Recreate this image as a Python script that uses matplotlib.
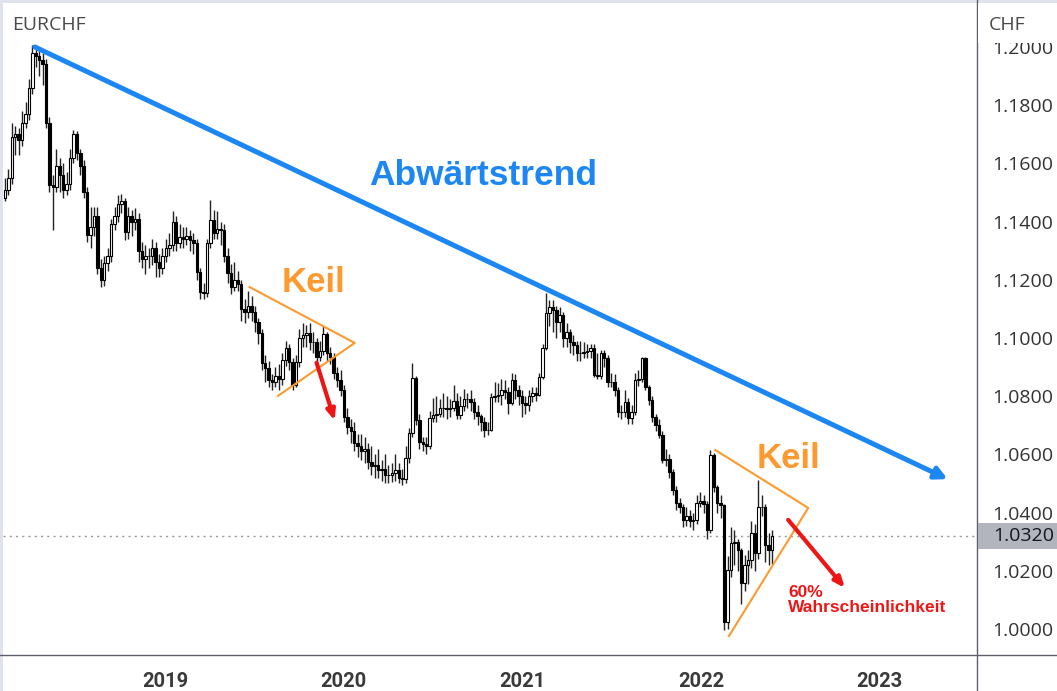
import matplotlib.pyplot as plt
import matplotlib.dates as mdates
from matplotlib.patches import Rectangle
from matplotlib.lines import Line2D
import numpy as np
import pandas as pd

plt.rcParams['font.family'] = ['Liberation Sans', 'DejaVu Sans']

# Weekly EURCHF candles (open = previous close)
first_week = '2018-02-08'
first_open = 1.148
closes = [
    1.151, 1.155, 1.169, 1.170, 1.168, 1.174, 1.177, 1.186, 1.198, 1.197,
    1.1955, 1.194, 1.174, 1.1526, 1.152, 1.159, 1.156, 1.151, 1.153, 1.162,
    1.170, 1.1636, 1.159, 1.150, 1.1354, 1.138, 1.142, 1.124, 1.120, 1.1258,
    1.128, 1.139, 1.142, 1.146, 1.147, 1.1364, 1.142, 1.140, 1.141, 1.130,
    1.127, 1.128, 1.128, 1.131, 1.126, 1.124, 1.128, 1.131, 1.132, 1.140,
    1.1326, 1.1347, 1.134, 1.135, 1.1335, 1.1325, 1.1227, 1.1158, 1.1155, 1.1326,
    1.1405, 1.136, 1.1375, 1.137, 1.128, 1.1223, 1.1175, 1.120, 1.1185, 1.110,
    1.109, 1.111, 1.109, 1.1055, 1.1017, 1.0914, 1.0897, 1.0856, 1.085, 1.087,
    1.086, 1.0924, 1.0966, 1.0918, 1.0838, 1.0918, 1.100, 1.101, 1.1017, 1.0986,
    1.0985, 1.0935, 1.0955, 1.1014, 1.0948, 1.0935, 1.088, 1.0856, 1.0821, 1.0729,
    1.0694, 1.068, 1.064, 1.063, 1.061, 1.062, 1.0574, 1.056, 1.0565, 1.0546,
    1.055, 1.053, 1.0528, 1.0535, 1.0545, 1.052, 1.0515, 1.0588, 1.0674, 1.0863,
    1.0718, 1.0643, 1.0635, 1.063, 1.0725, 1.0735, 1.074, 1.076, 1.076, 1.0755,
    1.076, 1.0785, 1.0735, 1.0765, 1.079, 1.079, 1.078, 1.0745, 1.0732, 1.071,
    1.0684, 1.0685, 1.0797, 1.080, 1.0805, 1.082, 1.0815, 1.0777, 1.0856, 1.082,
    1.080, 1.0775, 1.077, 1.080, 1.081, 1.0805, 1.0866, 1.0966, 1.1086, 1.1105,
    1.1095, 1.1055, 1.108, 1.100, 1.102, 1.0985, 1.0976, 1.0948, 1.095, 1.0953,
    1.0955, 1.0965, 1.0873, 1.087, 1.0948, 1.093, 1.0849, 1.085, 1.082, 1.0746,
    1.0745, 1.078, 1.0725, 1.0745, 1.0856, 1.086, 1.0931, 1.0832, 1.0787, 1.0729,
    1.070, 1.0667, 1.058, 1.0585, 1.054, 1.0478, 1.0433, 1.042, 1.0375, 1.039,
    1.037, 1.0375, 1.0433, 1.044, 1.043, 1.034, 1.0598, 1.0488, 1.0433, 1.0425,
    1.0024, 1.0203, 1.0296, 1.030, 1.027, 1.0158, 1.022, 1.0237, 1.033, 1.026,
    1.0419, 1.042, 1.0289, 1.027, 1.032,
]
highs = [
    1.155, 1.158, 1.174, 1.173, 1.172, 1.178, 1.181, 1.189, 1.2007, 1.2005,
    1.199, 1.198, 1.196, 1.176, 1.156, 1.165, 1.162, 1.160, 1.157, 1.165,
    1.1715, 1.171, 1.165, 1.161, 1.152, 1.145, 1.145, 1.145, 1.127, 1.128,
    1.131, 1.141, 1.145, 1.149, 1.1495, 1.148, 1.145, 1.144, 1.1445, 1.143,
    1.133, 1.132, 1.131, 1.134, 1.133, 1.129, 1.131, 1.134, 1.136, 1.1435,
    1.142, 1.139, 1.138, 1.138, 1.137, 1.136, 1.134, 1.124, 1.119, 1.134,
    1.1474, 1.144, 1.1435, 1.140, 1.139, 1.131, 1.1255, 1.126, 1.123, 1.120,
    1.1135, 1.116, 1.1145, 1.111, 1.107, 1.103, 1.094, 1.092, 1.0875, 1.090,
    1.091, 1.095, 1.099, 1.098, 1.093, 1.094, 1.103, 1.105, 1.1045, 1.105,
    1.102, 1.100, 1.099, 1.104, 1.102, 1.097, 1.095, 1.090, 1.089, 1.084,
    1.076, 1.072, 1.071, 1.067, 1.067, 1.066, 1.064, 1.063, 1.060, 1.062,
    1.058, 1.060, 1.0565, 1.057, 1.060, 1.057, 1.055, 1.063, 1.069, 1.0914,
    1.087, 1.074, 1.066, 1.066, 1.075, 1.0795, 1.080, 1.079, 1.081, 1.080,
    1.079, 1.084, 1.081, 1.080, 1.0825, 1.081, 1.082, 1.0795, 1.077, 1.074,
    1.073, 1.071, 1.081, 1.085, 1.0845, 1.086, 1.0855, 1.083, 1.088, 1.0875,
    1.084, 1.082, 1.080, 1.082, 1.083, 1.083, 1.088, 1.098, 1.1155, 1.113,
    1.113, 1.111, 1.1105, 1.109, 1.105, 1.103, 1.101, 1.099, 1.099, 1.0985,
    1.098, 1.098, 1.098, 1.095, 1.096, 1.096, 1.094, 1.088, 1.0875, 1.083,
    1.077, 1.082, 1.0795, 1.077, 1.088, 1.089, 1.0935, 1.0935, 1.084, 1.080,
    1.074, 1.072, 1.068, 1.062, 1.060, 1.055, 1.049, 1.045, 1.043, 1.042,
    1.041, 1.040, 1.046, 1.047, 1.046, 1.044, 1.0615, 1.0605, 1.0495, 1.046,
    1.043, 1.025, 1.035, 1.034, 1.031, 1.028, 1.0255, 1.027, 1.037, 1.036,
    1.0512, 1.046, 1.043, 1.033, 1.034,
]
lows = [
    1.147, 1.149, 1.153, 1.163, 1.163, 1.166, 1.172, 1.175, 1.184, 1.193,
    1.190, 1.187, 1.172, 1.150, 1.137, 1.150, 1.150, 1.148, 1.149, 1.151,
    1.160, 1.161, 1.156, 1.148, 1.133, 1.131, 1.135, 1.122, 1.1175, 1.118,
    1.123, 1.126, 1.137, 1.140, 1.143, 1.1335, 1.134, 1.135, 1.137, 1.126,
    1.124, 1.122, 1.124, 1.125, 1.121, 1.121, 1.122, 1.126, 1.128, 1.130,
    1.130, 1.131, 1.131, 1.132, 1.130, 1.129, 1.120, 1.1135, 1.1135, 1.114,
    1.131, 1.134, 1.134, 1.132, 1.126, 1.119, 1.115, 1.116, 1.116, 1.106,
    1.105, 1.107, 1.106, 1.102, 1.098, 1.089, 1.085, 1.083, 1.082, 1.083,
    1.082, 1.084, 1.0905, 1.089, 1.082, 1.083, 1.090, 1.097, 1.097, 1.096,
    1.095, 1.089, 1.092, 1.094, 1.092, 1.091, 1.086, 1.083, 1.080, 1.071,
    1.067, 1.064, 1.061, 1.059, 1.058, 1.057, 1.055, 1.053, 1.052, 1.052,
    1.051, 1.050, 1.050, 1.0505, 1.051, 1.050, 1.0495, 1.050, 1.057, 1.066,
    1.070, 1.062, 1.061, 1.060, 1.062, 1.071, 1.071, 1.073, 1.073, 1.072,
    1.073, 1.075, 1.072, 1.072, 1.075, 1.076, 1.075, 1.072, 1.070, 1.068,
    1.066, 1.0665, 1.068, 1.078, 1.078, 1.077, 1.079, 1.074, 1.077, 1.079,
    1.077, 1.073, 1.074, 1.075, 1.078, 1.0785, 1.080, 1.086, 1.096, 1.104,
    1.102, 1.100, 1.102, 1.097, 1.097, 1.095, 1.094, 1.092, 1.092, 1.093,
    1.093, 1.093, 1.0865, 1.086, 1.086, 1.090, 1.083, 1.083, 1.080, 1.073,
    1.072, 1.073, 1.0705, 1.0705, 1.0735, 1.0835, 1.085, 1.082, 1.077, 1.071,
    1.068, 1.0655, 1.057, 1.056, 1.052, 1.046, 1.041, 1.040, 1.035, 1.0355,
    1.035, 1.034, 1.036, 1.042, 1.040, 1.031, 1.033, 1.047, 1.040, 1.038,
    0.9998, 1.000, 1.018, 1.022, 1.020, 1.0085, 1.013, 1.0155, 1.021, 1.020,
    1.024, 1.039, 1.023, 1.022, 1.0225,
]
last_price = 1.032
price_ticks = [1.00, 1.02, 1.04, 1.06, 1.08, 1.10, 1.12, 1.14, 1.16, 1.18, 1.20]
year_labels = ['2019', '2020', '2021', '2022', '2023']

blue = '#1c87f2'
orange = '#fd9a2f'
red = '#ee1515'

weeks = pd.date_range(first_week, periods=len(closes), freq='7D')
x = mdates.date2num(weeks)
o = np.array([first_open] + closes[:-1])
c = np.array(closes)
up = c >= o


def d(s):
    return mdates.date2num(pd.Timestamp(s))


fig = plt.figure(figsize=(10.57, 6.91), dpi=100)
ax = fig.add_axes([3 / 1057, 36 / 691, 974 / 1057, 652 / 691])

# candles
ax.vlines(x, lows, highs, color='#222222', lw=1.0, zorder=2)
ax.bar(x, c - o, bottom=o, width=5.0,
       color=np.where(up, 'white', 'black'), edgecolor='black',
       linewidth=0.8, zorder=3)

ax.axhline(last_price, color='#9598a1', ls=(0, (1.5, 3)), lw=1, zorder=1)

ax.set_xlim(d('2018-02-04'), d('2023-07-19'))
ax.set_ylim(0.99107, 1.2151)

# axes / ticks
for s in ax.spines.values():
    s.set_visible(False)
ax.yaxis.tick_right()
ax.set_yticks(price_ticks)
ax.set_yticklabels(['%.4f' % p for p in price_ticks],
                   family='Open Sans', fontsize=14, color='#333333')
ax.set_xticks([d(y + '-01-01') for y in year_labels])
ax.set_xticklabels(year_labels, family='Roboto', fontweight='bold',
                   fontsize=14.5, color='#3a3a3a')
ax.tick_params(axis='y', length=0, pad=11)
ax.tick_params(axis='x', length=0, pad=12)

# trend line and annotations
ax.annotate('', xy=(d('2023-05-20'), 1.0515), xytext=(d('2018-04-10'), 1.2000),
            arrowprops=dict(arrowstyle='-|>,head_length=0.35,head_width=0.18',
                            mutation_scale=20, color=blue, lw=3.6,
                            shrinkA=0, shrinkB=0, capstyle='round'),
            zorder=5)
ax.text(d('2020-10-12'), 1.1557, 'Abwärtstrend', color=blue, fontsize=25.5,
        fontweight='bold', ha='center', va='center', zorder=6)

ax.plot([d('2019-06-23'), d('2020-01-24'), d('2019-08-20')],
        [1.1175, 1.0983, 1.0801], color=orange, lw=1.5, zorder=4)
ax.text(d('2019-11-01'), 1.1190, 'Keil', color=orange, fontsize=25,
        fontweight='bold', ha='center', va='center', zorder=6)
ax.plot([d('2022-01-30'), d('2022-08-08'), d('2022-02-27')],
        [1.0615, 1.0416, 0.9976], color=orange, lw=1.5, zorder=4)
ax.text(d('2022-06-28'), 1.0585, 'Keil', color=orange, fontsize=25,
        fontweight='bold', ha='center', va='center', zorder=6)

for start, end in [((d('2019-11-07'), 1.0915), (d('2019-12-14'), 1.0716)),
                   ((d('2022-06-28'), 1.0375), (d('2022-10-22'), 1.0141))]:
    ax.annotate('', xy=end, xytext=start,
                arrowprops=dict(arrowstyle='-|>,head_length=0.6,head_width=0.25',
                                mutation_scale=10, color=red, lw=3,
                                shrinkA=0, shrinkB=0), zorder=6)
ax.text(d('2022-06-28'), 1.0100, '60%\nWahrscheinlichkeit', color=red,
        fontsize=12.5, fontweight='bold', ha='left', va='center',
        linespacing=1.05, zorder=6)

# frame pieces outside the plot
fig.add_artist(Line2D([977 / 1057, 977 / 1057], [0, 1], color='#5d606b', lw=1))
fig.add_artist(Line2D([0, 1], [1 - 655 / 691, 1 - 655 / 691], color='#5d606b', lw=1))
fig.add_artist(Rectangle((0, 0), 3 / 1057, 1, color='#e0e3eb', lw=0))
fig.add_artist(Rectangle((0, 1 - 3 / 691), 1, 3 / 691, color='#e0e3eb', lw=0))
fig.add_artist(Rectangle((978 / 1057, 1 - 43 / 691), 79 / 1057, 40 / 691,
                         color='white', lw=0, zorder=5))
fig.add_artist(Rectangle((978 / 1057, 1 - 549 / 691), 79 / 1057, 26 / 691,
                         color='#b2b5be', lw=0, zorder=5))
fig.text(993 / 1057, 1 - 536 / 691, '%.4f' % last_price, family='Open Sans',
         fontsize=14, color='#131722', va='center', ha='left', zorder=6)
fig.text(989 / 1057, 1 - 25 / 691, 'CHF', family='Open Sans', fontsize=14,
         color='#4a4a4a', va='center', ha='left', zorder=6)
fig.text(12 / 1057, 1 - 25 / 691, 'EURCHF', family='Open Sans', fontsize=14,
         color='#4a4a4a', va='center', ha='left')

fig.savefig('out.png', dpi=100)
